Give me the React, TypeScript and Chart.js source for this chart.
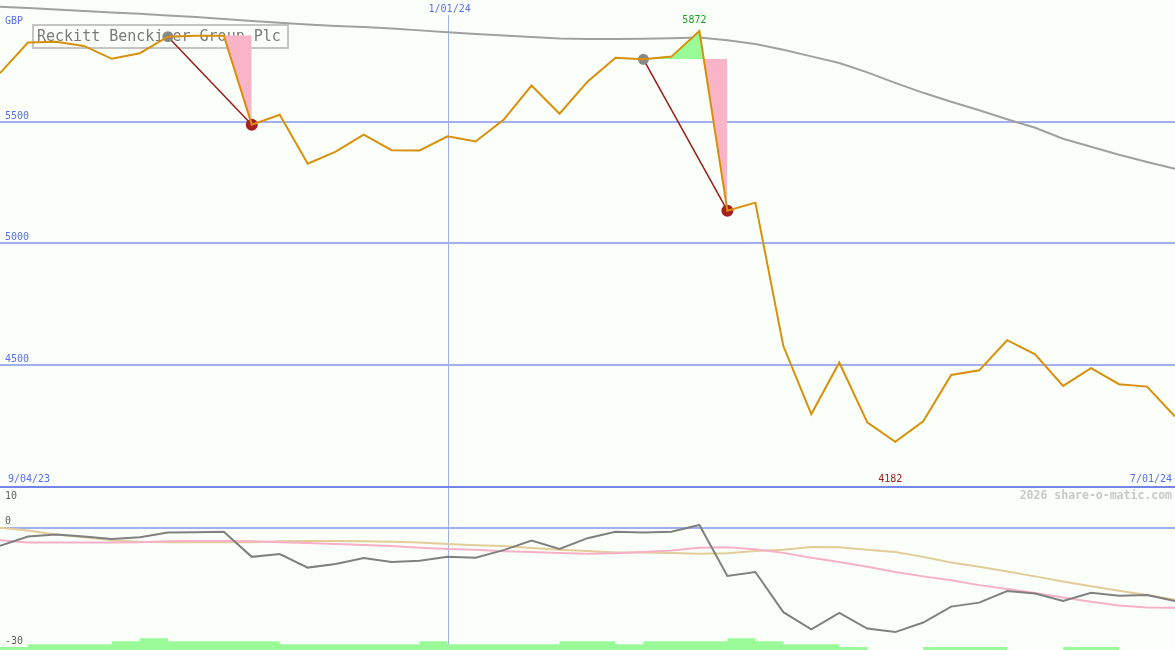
import React, { useEffect, useRef } from 'react';
import { Chart, registerables } from 'chart.js';

Chart.register(...registerables);

// ---------- data ----------
const dates = [
  '9/11/23', '9/18/23', '9/25/23', '10/02/23', '10/09/23', '10/16/23', '10/23/23', '10/30/23',
  '11/06/23', '11/13/23', '11/20/23', '11/27/23', '12/04/23', '12/11/23', '12/18/23', '12/25/23',
  '1/01/24', '1/08/24', '1/15/24', '1/22/24', '1/29/24', '2/05/24', '2/12/24', '2/19/24',
  '2/26/24', '3/04/24', '3/11/24', '3/18/24', '3/25/24', '4/01/24', '4/08/24', '4/15/24',
  '4/22/24', '4/29/24', '5/06/24', '5/13/24', '5/20/24', '5/27/24', '6/03/24', '6/10/24',
  '6/17/24', '6/24/24', '7/01/24',
];

const price = [
  5699, 5825, 5828, 5811, 5758, 5781, 5849, 5853, 5853, 5487,
  5528, 5326, 5376, 5446, 5382, 5381, 5439, 5418, 5507, 5648,
  5532, 5664, 5762, 5756, 5767, 5872, 5133, 5166, 4576, 4296,
  4508, 4262, 4182, 4266, 4457, 4476, 4600, 4542, 4412, 4485,
  4419, 4409, 4286,
];

const longAverage = [
  5972, 5967, 5961, 5955, 5949, 5943, 5936, 5930, 5922, 5914,
  5906, 5899, 5893, 5889, 5883, 5875, 5867, 5860, 5854, 5848,
  5842, 5840, 5840, 5841, 5843, 5846, 5834, 5819, 5795, 5768,
  5741, 5702, 5659, 5618, 5581, 5546, 5509, 5474, 5429, 5396,
  5363, 5333, 5305,
];

const priceDeviation = [
  -4.5, -2.2, -1.7, -2.2, -2.8, -2.4, -1.2, -1.1, -1.0, -7.3,
  -6.6, -10.0, -9.1, -7.6, -8.6, -8.3, -7.3, -7.5, -5.6, -3.2,
  -5.3, -2.6, -1.0, -1.2, -1.0, 0.7, -12.1, -11.1, -21.2, -25.5,
  -21.4, -25.3, -26.2, -23.8, -19.8, -18.8, -15.9, -16.5, -18.4, -16.3,
  -17.1, -16.9, -18.4,
];

const midAverageDeviation = [
  0.0, -0.7, -1.7, -2.4, -3.1, -3.5, -3.6, -3.6, -3.6, -3.6,
  -3.4, -3.3, -3.3, -3.4, -3.5, -3.7, -4.1, -4.4, -4.6, -5.1,
  -5.5, -5.8, -6.2, -6.2, -6.3, -6.5, -6.4, -5.8, -5.5, -4.8,
  -4.9, -5.5, -6.1, -7.3, -8.7, -9.8, -11.0, -12.2, -13.5, -14.7,
  -15.8, -16.9, -18.1,
];

const shortAverageDeviation = [
  -3.1, -3.7, -3.7, -3.7, -3.7, -3.6, -3.4, -3.3, -3.3, -3.4,
  -3.6, -3.8, -4.1, -4.3, -4.6, -5.0, -5.3, -5.5, -5.9, -6.1,
  -6.3, -6.5, -6.4, -6.1, -5.7, -5.0, -4.9, -5.4, -6.3, -7.5,
  -8.6, -9.8, -11.1, -12.2, -13.2, -14.4, -15.4, -16.4, -17.5, -18.6,
  -19.5, -20.0, -20.1,
];

// one level per weekly interval (interval i spans point i to point i+1)
const volumeLevels = [
  1, 2, 2, 2, 3, 4, 3, 3, 3, 3,
  2, 2, 2, 2, 2, 3, 2, 2, 2, 2,
  3, 3, 2, 3, 3, 3, 4, 3, 2, 2,
  1, 0, 0, 1, 1, 1, 0, 0, 1, 1,
  0, 0, 0,
];

const drops = [
  { from: 6, to: 9, level: 5855 },
  { from: 23, to: 26, level: 5757 },
];

const title = 'Reckitt Benckiser Group Plc';
const currency = 'GBP';
const startLabel = '9/04/23';
const endLabel = '7/01/24';
const markerLabel = '1/01/24';
const priceGrid = [5500, 5000, 4500];
const oscTicks = [10, 0, -30];
const oscGrid = [0];
const watermark = '2026 share-o-matic.com';

// ---------- styles ----------
const BG = '#fafffa';
const GRID = '#a3b0f0';
const SEP = '#7385ea';
const BLUE_TEXT = '#5a6ef0';
const MONO = '"DejaVu Sans Mono", monospace';

const W = 1175;
const TOP_H = 488;
const BOT_H = 162;

const markerIndex = dates.indexOf(markerLabel);

const App: React.FC = () => {
  const topRef = useRef<HTMLCanvasElement | null>(null);
  const botRef = useRef<HTMLCanvasElement | null>(null);

  useEffect(() => {
    if (!topRef.current || !botRef.current) return;

    const hi = price.indexOf(Math.max(...price));
    const lo = price.indexOf(Math.min(...price));

    const topDecor = {
      id: 'topDecor',
      beforeDatasetsDraw(chart: any) {
        const { ctx, scales } = chart;
        const w = chart.width;
        ctx.save();
        ctx.font = `10px ${MONO}`;
        ctx.textAlign = 'left';
        ctx.textBaseline = 'bottom';
        for (const v of priceGrid) {
          const y = Math.round(scales.y.getPixelForValue(v));
          ctx.fillStyle = GRID;
          ctx.fillRect(0, y - 1, w, 2);
          ctx.fillStyle = BLUE_TEXT;
          ctx.fillText(String(v), 5, y - 1);
        }
        const mx = Math.round(scales.x.getPixelForValue(markerIndex));
        ctx.fillStyle = GRID;
        ctx.fillRect(mx, 15, 1, chart.chartArea.bottom - 15);
        ctx.strokeStyle = '#c4c4c4';
        ctx.lineWidth = 2;
        ctx.strokeRect(33, 25, 255, 23);
        ctx.fillStyle = '#7a7a7a';
        ctx.font = `15px ${MONO}`;
        ctx.textBaseline = 'middle';
        ctx.fillText(title, 37, 37);
        ctx.restore();
      },
      afterDatasetsDraw(chart: any) {
        const { ctx, scales, chartArea } = chart;
        const w = chart.width;
        ctx.save();
        ctx.font = `10px ${MONO}`;
        ctx.textBaseline = 'middle';
        ctx.fillStyle = BLUE_TEXT;
        ctx.textAlign = 'left';
        ctx.fillText(currency, 5, 21);
        const mx = scales.x.getPixelForValue(markerIndex);
        ctx.textAlign = 'center';
        ctx.fillText(markerLabel, mx + 2, 9);
        ctx.fillStyle = '#20a020';
        ctx.fillText(String(price[hi]), scales.x.getPixelForValue(hi) - 5, scales.y.getPixelForValue(price[hi]) - 10.5);
        ctx.fillStyle = '#a01818';
        ctx.fillText(String(price[lo]), scales.x.getPixelForValue(lo) - 5, chartArea.bottom - 7);
        ctx.fillStyle = BLUE_TEXT;
        ctx.textAlign = 'left';
        ctx.fillText(startLabel, 8, chartArea.bottom - 7);
        ctx.textAlign = 'right';
        ctx.fillText(endLabel, w - 3, chartArea.bottom - 7);
        ctx.fillStyle = SEP;
        ctx.fillRect(0, chartArea.bottom, w, 2);
        ctx.restore();
      },
    };

    const dropDatasets: any[] = [];
    drops.forEach((d) => {
      dropDatasets.push({
        label: 'drop-line',
        data: price.map((v, i) => (i === d.from || i === d.to ? v : null)),
        spanGaps: true,
        borderColor: '#9a1b1b',
        borderWidth: 1.5,
        pointRadius: (c: any) => (c.dataIndex === d.from ? 5.5 : c.dataIndex === d.to ? 6 : 0),
        pointBackgroundColor: (c: any) => (c.dataIndex === d.from ? '#888888' : '#a52020'),
        pointBorderWidth: 0,
        order: 2,
      });
      dropDatasets.push({
        label: 'drop-fill',
        data: price.map((v, i) => (i >= d.from && i <= d.to ? v : null)),
        borderWidth: 0,
        borderColor: 'rgba(0,0,0,0)',
        pointRadius: 0,
        fill: { target: { value: d.level }, above: '#98fb98', below: '#fab4c8' },
        order: 3,
      });
    });

    const top = new Chart(topRef.current, {
      type: 'line',
      data: {
        labels: dates,
        datasets: [
          {
            label: 'price',
            data: price,
            borderColor: '#d8900a',
            borderWidth: 2,
            pointRadius: 0,
            order: 1,
          },
          ...dropDatasets,
          {
            label: 'long average',
            data: longAverage,
            borderColor: '#a0a0a0',
            borderWidth: 2,
            pointRadius: 0,
            order: 4,
          },
        ],
      },
      options: {
        responsive: false,
        animation: false,
        events: [],
        layout: { padding: { left: 0, right: 0, top: 0, bottom: 2 } },
        plugins: { legend: { display: false }, tooltip: { enabled: false } },
        scales: {
          x: { type: 'category', display: false, offset: false },
          y: { display: false, min: 4000, max: 6000 },
        },
      },
      plugins: [topDecor],
    });

    const botDecor = {
      id: 'botDecor',
      beforeDatasetsDraw(chart: any) {
        const { ctx, scales } = chart;
        ctx.save();
        ctx.fillStyle = GRID;
        for (const v of oscGrid) {
          const y = Math.round(scales.y.getPixelForValue(v));
          ctx.fillRect(0, y - 1, chart.width, 2);
        }
        const mx = Math.round(scales.x.getPixelForValue(markerIndex));
        ctx.fillRect(mx, 0, 1, chart.height);
        ctx.restore();
      },
      afterDatasetsDraw(chart: any) {
        const { ctx, scales } = chart;
        ctx.save();
        ctx.font = `10px ${MONO}`;
        ctx.textBaseline = 'middle';
        ctx.textAlign = 'left';
        ctx.fillStyle = '#606060';
        const maxV = Math.max(...oscTicks);
        for (const v of oscTicks) {
          const y = scales.y.getPixelForValue(v);
          ctx.fillText(String(v), 5, v === maxV ? y + 8 : y - 6);
        }
        ctx.font = `bold 11.5px ${MONO}`;
        ctx.fillStyle = '#c8c8c8';
        ctx.textAlign = 'right';
        ctx.fillText(watermark, chart.width - 3, 8);
        ctx.restore();
      },
    };

    const bot = new Chart(botRef.current, {
      type: 'line',
      data: {
        labels: dates,
        datasets: [
          {
            label: 'deviation',
            data: priceDeviation,
            borderColor: '#808080',
            borderWidth: 2,
            pointRadius: 0,
            order: 1,
          },
          {
            label: 'short',
            data: shortAverageDeviation,
            borderColor: '#f8b0c8',
            borderWidth: 2,
            pointRadius: 0,
            order: 2,
          },
          {
            label: 'mid',
            data: midAverageDeviation,
            borderColor: '#e2cc98',
            borderWidth: 2,
            pointRadius: 0,
            order: 3,
          },
          {
            label: 'volume',
            data: volumeLevels,
            yAxisID: 'yv',
            stepped: 'before',
            borderWidth: 0,
            borderColor: 'rgba(0,0,0,0)',
            backgroundColor: '#98fb98',
            pointRadius: 0,
            fill: 'start',
            order: 4,
          },
        ],
      },
      options: {
        responsive: false,
        animation: false,
        events: [],
        layout: { padding: 0 },
        plugins: { legend: { display: false }, tooltip: { enabled: false } },
        scales: {
          x: { type: 'category', display: false, offset: false },
          y: { display: false, min: -30.7, max: 10 },
          yv: { display: false, min: 0, max: 55.3 },
        },
      },
      plugins: [botDecor],
    });

    return () => {
      top.destroy();
      bot.destroy();
    };
  }, []);

  return (
    <div style={{ position: 'absolute', left: 0, top: 0, width: W, height: TOP_H + BOT_H, background: BG, overflow: 'hidden' }}>
      <canvas ref={topRef} width={W} height={TOP_H} style={{ position: 'absolute', left: 0, top: 0, width: W, height: TOP_H }} />
      <canvas ref={botRef} width={W} height={BOT_H} style={{ position: 'absolute', left: 0, top: TOP_H, width: W, height: BOT_H }} />
    </div>
  );
};

export default App;
